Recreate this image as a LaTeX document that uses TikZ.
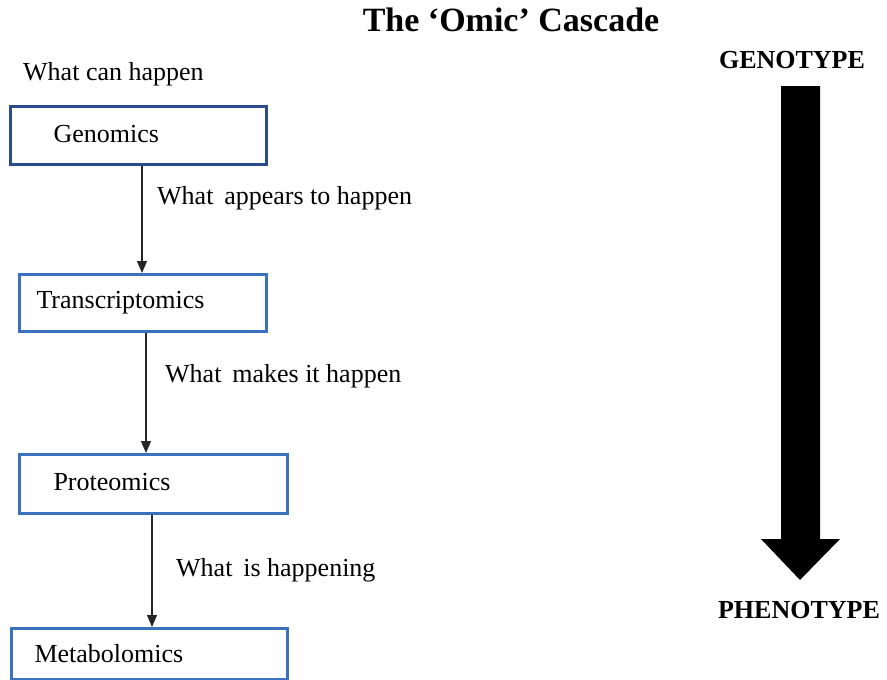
\documentclass[tikz,border=0pt]{standalone}
\usepackage{fontspec}
\setmainfont{Liberation Serif}
\usetikzlibrary{arrows.meta}
\definecolor{darkblue}{HTML}{2B4C8C}
\definecolor{midblue}{HTML}{3B72BF}
\tikzset{
  box/.style={draw=midblue, line width=3pt, rectangle, anchor=north west, align=left,
    font=\fontsize{26}{30}\selectfont, inner ysep=0pt},
  lbl/.style={anchor=west, inner sep=0pt, font=\fontsize{26}{30}\selectfont},
  conn/.style={draw=black!85, line width=1.3pt, -{Triangle[length=12pt,width=10pt]}},
  head/.style={font=\bfseries\fontsize{26}{30}\selectfont, inner sep=0pt},
  bigarrow/.style={fill=black, draw=none}
}
\begin{document}
\begin{tikzpicture}[x=1pt,y=-1pt]
\useasboundingbox (0,0) rectangle (887,680);
\node[head, font=\bfseries\fontsize{34}{38}\selectfont] (title) at (511,20) {The ‘Omic’ Cascade};
\node[lbl] (can) at (23,74) {What can happen};

\node[box, draw=darkblue, minimum width=256pt, minimum height=58pt, inner xsep=43pt, text width=170pt] (gen) at (9,105) {\raisebox{4pt}{Genomics}};
\node[box, minimum width=247pt, minimum height=57pt, inner xsep=17pt, text width=213pt] (tra) at (18,273) {\raisebox{6pt}{Transcriptomics}};
\node[box, minimum width=268pt, minimum height=59pt, inner xsep=34pt, text width=200pt] (pro) at (18,453) {\raisebox{4pt}{Proteomics}};
\node[box, minimum width=276pt, minimum height=51pt, inner xsep=23pt, text width=230pt] (met) at (10,627) {Metabolomics};

\draw[conn] ([xshift=133pt]gen.south west) -- ([xshift=124pt]tra.north west);
\draw[conn] ([xshift=128pt]tra.south west) -- ([xshift=128pt]pro.north west);
\draw[conn] ([xshift=134pt]pro.south west) -- ([xshift=142pt]met.north west);

\node[lbl] (l1) at (157,198) {What\, appears to happen};
\node[lbl] (l2) at (165,376) {What\, makes it happen};
\node[lbl] (l3) at (176,570) {What\, is happening};

\node[head] (geno) at (792,60) {GENOTYPE};
\node[head] (pheno) at (799,610) {PHENOTYPE};
\fill[bigarrow] (781,86) -- (820,86) -- (820,539) -- (840,539) -- (800,580) -- (761,539) -- (781,539) -- cycle;
\end{tikzpicture}
\end{document}
